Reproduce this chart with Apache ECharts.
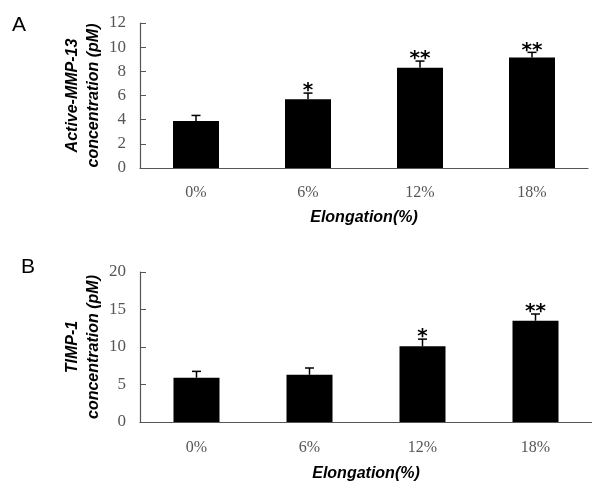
<!DOCTYPE html>
<html>
<head>
<meta charset="utf-8">
<script src="https://cdn.jsdelivr.net/npm/echarts@6/dist/echarts.min.js"></script>
<style>
html,body{margin:0;padding:0;background:#fff;}
#chart{width:592px;height:483px;}
</style>
</head>
<body>
<div id="chart"></div>
<script>
var categories = ['0%', '6%', '12%', '18%'];
var mmp13 = [3.9, 5.7, 8.3, 9.15];
var mmp13Err = [0.45, 0.5, 0.55, 0.42];
var mmp13Sig = ['', '*', '**', '**'];
var timp1 = [5.9, 6.3, 10.1, 13.5];
var timp1Err = [0.85, 0.9, 0.95, 0.9];
var timp1Sig = ['', '', '*', '**'];
var axisA = {min: 0, max: 12, interval: 2};
var axisB = {min: 0, max: 20, interval: 5};

var chart = echarts.init(document.getElementById('chart'), null, {renderer: 'canvas'});

var labelFont = 'Liberation Serif';
var boldFont = 'Liberation Sans';
var axisColor = '#555';

function xAxisCfg(gridIndex, nameGap, labelMargin) {
  return {
    type: 'category', gridIndex: gridIndex, data: categories,
    name: 'Elongation(%)', nameLocation: 'middle', nameGap: nameGap, nameMoveOverlap: false,
    nameTextStyle: {fontFamily: boldFont, fontWeight: 'bold', fontStyle: 'italic', fontSize: 16, color: '#000'},
    axisLine: {lineStyle: {color: axisColor, width: 1.2}},
    axisTick: {inside: true, length: 5, lineStyle: {color: axisColor}},
    axisLabel: {fontFamily: labelFont, fontSize: 16, color: '#555', margin: labelMargin}
  };
}
function yAxisCfg(gridIndex, name, rng) {
  return {
    type: 'value', gridIndex: gridIndex, min: rng.min, max: rng.max, interval: rng.interval,
    name: name, nameLocation: 'middle', nameGap: 36, nameRotate: 90, nameMoveOverlap: false,
    nameTextStyle: {fontFamily: boldFont, fontWeight: 'bold', fontStyle: 'italic', fontSize: 16, lineHeight: 21, color: '#000', align: 'center'},
    axisLine: {show: true, lineStyle: {color: axisColor, width: 1.2}},
    axisTick: {show: true, inside: true, length: 6, lineStyle: {color: axisColor}},
    axisLabel: {fontFamily: labelFont, fontSize: 17, color: '#555', margin: 14},
    splitLine: {show: false}
  };
}
function errSeries(idx, means, errs, sigs) {
  return {
    type: 'custom', xAxisIndex: idx, yAxisIndex: idx, z: 5,
    data: means.map(function (m, i) { return [i, m, errs[i]]; }),
    renderItem: function (params, api) {
      var i = api.value(0), m = api.value(1), e = api.value(2);
      var p0 = api.coord([i, m]);
      var p1 = api.coord([i, m + e]);
      var half = 4.5;
      var children = [
        {type: 'line', shape: {x1: p0[0], y1: p0[1], x2: p1[0], y2: p1[1]}, style: {stroke: '#000', lineWidth: 1.5}},
        {type: 'line', shape: {x1: p1[0] - half, y1: p1[1], x2: p1[0] + half, y2: p1[1]}, style: {stroke: '#000', lineWidth: 1.5}}
      ];
      var s = sigs[params.dataIndex];
      if (s) {
        children.push({type: 'text', style: {text: s, x: p1[0], y: p1[1] + 8, align: 'center', verticalAlign: 'bottom',
          font: 'bold 20px "DejaVu Sans"', fill: '#000'}});
      }
      return {type: 'group', children: children};
    }
  };
}

chart.setOption({
  backgroundColor: '#fff',
  animation: false,
  graphic: [
    {type: 'text', left: 12, top: 15, style: {text: 'A', font: '21px "Liberation Sans"', fill: '#000'}},
    {type: 'text', left: 21, top: 257, style: {text: 'B', font: '21px "Liberation Sans"', fill: '#000'}}
  ],
  grid: [
    {left: 140, top: 23, width: 448, height: 145},
    {left: 140, top: 272, width: 452, height: 151}
  ],
  xAxis: [xAxisCfg(0, 42, 17), xAxisCfg(1, 44, 18)],
  yAxis: [yAxisCfg(0, 'Active-MMP-13\nconcentration (pM)', axisA), yAxisCfg(1, 'TIMP-1\nconcentration (pM)', axisB)],
  series: [
    {type: 'bar', xAxisIndex: 0, yAxisIndex: 0, data: mmp13, barWidth: 46, itemStyle: {color: '#000'}},
    errSeries(0, mmp13, mmp13Err, mmp13Sig),
    {type: 'bar', xAxisIndex: 1, yAxisIndex: 1, data: timp1, barWidth: 46, itemStyle: {color: '#000'}},
    errSeries(1, timp1, timp1Err, timp1Sig)
  ]
});
</script>
</body>
</html>
